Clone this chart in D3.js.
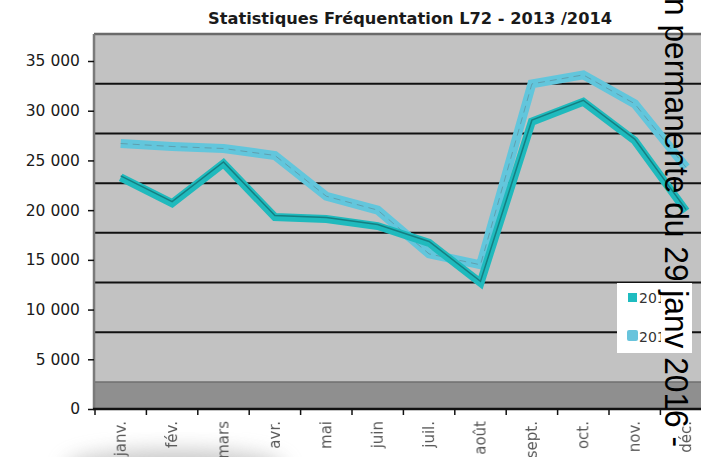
<!DOCTYPE html>
<html>
<head>
<meta charset="utf-8">
<script src="https://cdn.jsdelivr.net/npm/d3@7"></script>
<style>
  body { margin: 0; background: #fff; }
  svg { display: block; }
</style>
</head>
<body>
<div id="chart"></div>
<script>
// months on the x axis
var months = ["janv.", "fév.", "mars", "avr.", "mai", "juin", "juil.", "août", "sept.", "oct.", "nov.", "déc."];
// fréquentation per month
var values2013 = [23300, 20700, 24700, 19300, 19100, 18400, 16700, 12700, 28900, 30900, 27000, 19900];
var values2014 = [26700, 26400, 26200, 25500, 21400, 20000, 15600, 14500, 32700, 33600, 30700, 24300];
var seriesNames = ["2013", "2014"];
var yTicks = [0, 5000, 10000, 15000, 20000, 25000, 30000, 35000];

var width = 701, height = 457;
var depth = 27; // 3d back-wall offset

var svg = d3.select("#chart").append("svg")
    .attr("width", width)
    .attr("height", height);

var defs = svg.append("defs");

var x = d3.scaleBand()
    .domain(months)
    .range([95, 95 + 12 * 51.4]);

var y = d3.scaleLinear()
    .domain([0, 35000])
    .range([409, 61]);

var fmt = function (d) { return d3.format(",")(d).replace(",", " "); };

// soft shadow under the bottom-left labels
var sh = defs.append("filter").attr("id", "soft")
    .attr("x", "-50%").attr("y", "-50%").attr("width", "200%").attr("height", "200%");
sh.append("feGaussianBlur").attr("stdDeviation", 10);
svg.append("ellipse")
    .attr("cx", 175).attr("cy", 468)
    .attr("rx", 110).attr("ry", 18)
    .attr("fill", "#9a9a9a")
    .attr("opacity", 0.55)
    .attr("filter", "url(#soft)");

// plot area (back wall)
svg.append("rect")
    .attr("x", 94).attr("y", y(35000) - depth)
    .attr("width", width - 94).attr("height", y(0) - y(35000) + depth)
    .attr("fill", "#c2c2c2");

// floor
svg.append("rect")
    .attr("x", 94).attr("y", y(0) - depth)
    .attr("width", width - 94).attr("height", depth)
    .attr("fill", "#8f8f8f");
svg.append("line")
    .attr("x1", 94).attr("x2", width)
    .attr("y1", y(0) - depth).attr("y2", y(0) - depth)
    .attr("stroke", "#6f6f6f").attr("stroke-width", 1.5);

// gridlines on the back wall
svg.selectAll(".grid")
    .data(yTicks.filter(function (d) { return d > 0 && d < 35000; }))
    .enter().append("line")
    .attr("class", "grid")
    .attr("x1", 94).attr("x2", width)
    .attr("y1", function (d) { return y(d) - depth; })
    .attr("y2", function (d) { return y(d) - depth; })
    .attr("stroke", "#111").attr("stroke-width", 2);

// top border + left wall edge
svg.append("line")
    .attr("x1", 94).attr("x2", width)
    .attr("y1", y(35000) - depth).attr("y2", y(35000) - depth)
    .attr("stroke", "#6a6a6a").attr("stroke-width", 2.5);
svg.append("line")
    .attr("x1", 94).attr("x2", 94)
    .attr("y1", y(35000) - depth).attr("y2", y(0))
    .attr("stroke", "#7a7a7a").attr("stroke-width", 2.5);

// y axis
var yAxis = d3.axisLeft(y)
    .tickValues(yTicks)
    .tickFormat(fmt)
    .tickSize(6)
    .tickPadding(8);
var gy = svg.append("g")
    .attr("transform", "translate(94,0)")
    .call(yAxis);
gy.select(".domain").remove();
gy.selectAll(".tick line").attr("stroke", "#111").attr("stroke-width", 1.5);
gy.selectAll(".tick text")
    .attr("font-family", "DejaVu Sans, Verdana, sans-serif")
    .attr("font-size", "15.5px")
    .attr("fill", "#1a1a1a");

// x axis: labels at band centers, ticks at band edges
var xAxis = d3.axisBottom(x).tickSize(0).tickPadding(0);
var gx = svg.append("g")
    .attr("transform", "translate(0," + y(0) + ")")
    .call(xAxis);
gx.select(".domain").remove();
gx.selectAll(".tick text")
    .attr("transform", "rotate(-90)")
    .attr("text-anchor", "end")
    .attr("x", -12)
    .attr("y", 0)
    .attr("dy", "0.35em")
    .attr("font-family", "DejaVu Sans, Verdana, sans-serif")
    .attr("font-size", "15px")
    .attr("fill", "#5a5a5a")
    .style("filter", "blur(0.6px)");

svg.append("line")
    .attr("x1", 93).attr("x2", width)
    .attr("y1", y(0)).attr("y2", y(0))
    .attr("stroke", "#111").attr("stroke-width", 2.5);
svg.selectAll(".xtick")
    .data(months)
    .enter().append("line")
    .attr("class", "xtick")
    .attr("x1", function (d) { return x(d); })
    .attr("x2", function (d) { return x(d); })
    .attr("y1", y(0)).attr("y2", y(0) + 6)
    .attr("stroke", "#111").attr("stroke-width", 1.5);

// lines
var line = d3.line()
    .x(function (d, i) { return x(months[i]) + x.bandwidth() / 2; })
    .y(function (d) { return y(d); });

// 2014 behind
svg.append("path")
    .attr("d", line(values2014))
    .attr("fill", "none")
    .attr("stroke", "#62c6dc")
    .attr("stroke-width", 9)
    .attr("stroke-linejoin", "miter");
svg.append("path")
    .attr("d", line(values2014))
    .attr("fill", "none")
    .attr("stroke", "#5e95a3")
    .attr("stroke-width", 1)
    .attr("stroke-dasharray", "7,5")
    .attr("opacity", 0.8);

// 2013 in front
svg.append("path")
    .attr("d", line(values2013))
    .attr("fill", "none")
    .attr("stroke", "#1fbabd")
    .attr("stroke-width", 8)
    .attr("stroke-linejoin", "miter");
svg.append("path")
    .attr("d", line(values2013))
    .attr("fill", "none")
    .attr("stroke", "#157f82")
    .attr("stroke-width", 1.5)
    .attr("transform", "translate(0,-1.5)");

// title
svg.append("text")
    .attr("x", 208)
    .attr("y", 24)
    .attr("textLength", 404)
    .attr("lengthAdjust", "spacingAndGlyphs")
    .attr("font-family", "DejaVu Sans, Verdana, sans-serif")
    .attr("font-weight", "bold")
    .attr("font-size", "15px")
    .attr("fill", "#1a1a1a")
    .text("Statistiques Fréquentation L72 - 2013 /2014");

// legend
var legendColors = ["#1fbcc0", "#68c4dc"];
defs.append("clipPath")
    .attr("id", "legclip")
    .append("rect")
    .attr("x", 600).attr("y", 270).attr("width", 61).attr("height", 100);

svg.append("rect")
    .attr("x", 617).attr("y", 283)
    .attr("width", 75).attr("height", 70)
    .attr("fill", "#fff");

var legWrap = svg.append("g").attr("clip-path", "url(#legclip)");
var leg = legWrap.selectAll(".leg")
    .data(seriesNames)
    .enter().append("g")
    .attr("class", "leg")
    .attr("transform", function (d, i) { return "translate(627," + (296 + i * 39) + ")"; });
leg.append("rect")
    .attr("x", function (d, i) { return i === 0 ? 1 : 0; })
    .attr("y", function (d, i) { return i === 0 ? -3 : -5; })
    .attr("width", function (d, i) { return i === 0 ? 9 : 11; })
    .attr("height", function (d, i) { return i === 0 ? 9 : 11; })
    .attr("rx", function (d, i) { return i === 0 ? 0 : 2; })
    .attr("fill", function (d, i) { return legendColors[i]; });
leg.append("text")
    .attr("x", 12)
    .attr("y", 7)
    .attr("font-family", "DejaVu Sans, Verdana, sans-serif")
    .attr("font-size", "14px")
    .attr("fill", "#333")
    .text(function (d) { return d; });

// overlaid rotated caption
svg.append("text")
    .attr("transform", "translate(665,-2) rotate(90)")
    .attr("font-family", "'Liberation Sans', Arial, sans-serif")
    .attr("font-size", "33px")
    .attr("textLength", 449)
    .attr("lengthAdjust", "spacingAndGlyphs")
    .attr("fill", "#000")
    .text("n permanente du 29 janv 2016 -");
</script>
</body>
</html>
